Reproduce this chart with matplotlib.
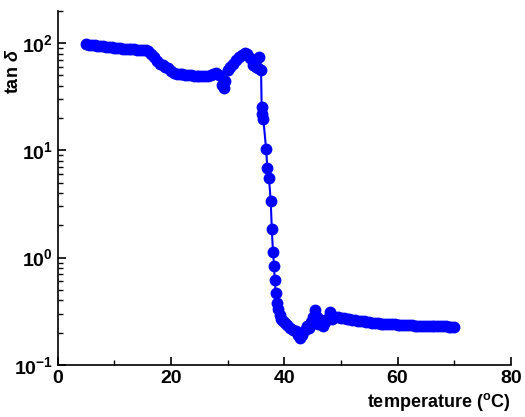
import numpy as np
import matplotlib
matplotlib.use("Agg")
import matplotlib.pyplot as plt
from matplotlib.ticker import FixedLocator, LogLocator, NullFormatter

plt.rcParams['font.family'] = 'Liberation Sans'
plt.rcParams['font.weight'] = 'bold'
plt.rcParams['mathtext.fontset'] = 'custom'
plt.rcParams['mathtext.rm'] = 'Liberation Sans:bold'
plt.rcParams['mathtext.bf'] = 'Liberation Sans:bold'
plt.rcParams['mathtext.it'] = 'Liberation Sans:italic:bold'

# temperature (C) and tan delta
temp = [5.0, 5.5, 6.0, 6.5, 7.0, 7.5, 8.0, 8.5, 9.0, 9.5,
        10.0, 10.5, 11.0, 11.5, 12.0, 12.5, 13.0, 13.5, 14.0, 14.5,
        15.0, 15.5, 16.0, 16.5, 17.0, 17.5, 18.0, 18.5, 19.0, 19.5,
        20.0, 20.5, 21.0, 21.5, 22.0, 22.5, 23.0, 23.5, 24.0, 24.5,
        25.0, 25.5, 26.0, 26.5, 27.0, 27.5, 28.0, 28.5, 29.0, 29.3,
        29.6, 30.0, 30.5, 31.0, 31.5, 32.0, 32.5, 33.0, 33.5, 34.0,
        34.5, 35.0, 35.3, 35.6, 35.9,
        36.0, 36.1, 36.3, 36.8, 37.0, 37.3, 37.6, 37.8, 38.0, 38.2,
        38.3, 38.5, 38.7, 38.9, 39.2, 39.5, 39.8, 40.1, 40.5, 41.0,
        41.5, 42.0, 42.5, 42.8, 43.2, 43.6, 44.0, 44.3, 44.7, 45.0,
        45.4, 45.7, 46.0, 46.4, 46.8, 47.2, 47.6, 48.1, 48.4, 49.0,
        49.5, 50.0, 50.5, 51.0, 51.5, 52.0, 52.5, 53.0, 53.5, 54.0,
        54.5, 55.0, 55.5, 56.0, 56.5, 57.0, 57.5, 58.0, 58.5, 59.0,
        59.5, 60.0, 60.5, 61.0, 61.5, 62.0, 62.5, 63.0, 63.5, 64.0,
        64.5, 65.0, 65.5, 66.0, 66.5, 67.0, 67.5, 68.0, 68.5, 69.0,
        69.5, 70.0]
tan_d = [98, 97, 96, 96, 95, 94, 94, 93, 92, 92,
         91, 90, 90, 89, 89, 88, 88, 88, 87, 87,
         87, 86, 84, 80, 74, 68, 64, 62, 60, 58,
         55, 53, 52, 51, 51, 50.5, 50, 50, 49.5, 49,
         49, 49, 49, 49.5, 50, 51, 53, 50, 41, 38,
         44, 56, 60, 64, 69, 74, 78, 81, 80, 72,
         63, 60, 58, 75, 56,
         25.6, 21.7, 19.5, 10.2, 6.8, 5.5, 3.4, 1.83, 1.14, 0.84,
         0.62, 0.47, 0.38, 0.33, 0.29, 0.27, 0.255, 0.245, 0.235, 0.222,
         0.21, 0.205, 0.19, 0.179, 0.19, 0.21, 0.23, 0.22, 0.25, 0.28,
         0.325, 0.28, 0.24, 0.26, 0.23, 0.25, 0.27, 0.31, 0.27, 0.282,
         0.279, 0.276, 0.273, 0.27, 0.267, 0.264, 0.261, 0.258, 0.256, 0.254,
         0.252, 0.25, 0.248, 0.246, 0.245, 0.243, 0.242, 0.241, 0.24, 0.239,
         0.238, 0.237, 0.236, 0.235, 0.234, 0.234, 0.233, 0.232, 0.232, 0.231,
         0.231, 0.23, 0.23, 0.229, 0.229, 0.229, 0.228, 0.228, 0.228, 0.227,
         0.227, 0.227]

fig = plt.figure(figsize=(5.25, 4.17), dpi=100)
ax = fig.add_axes([0.110, 0.125, 0.863, 0.849])

ax.plot(temp, tan_d, color='#0000ff', lw=1.5, marker='o', ms=7.5,
        mec='#0000ff', mfc='#0000ff')

ax.set_yscale('log')
ax.set_xlim(0, 80)
ax.set_ylim(0.1, 200)

ax.spines['top'].set_visible(False)
ax.spines['right'].set_visible(False)
ax.spines['left'].set_linewidth(1.2)
ax.spines['bottom'].set_linewidth(1.2)

ax.xaxis.set_major_locator(FixedLocator([0, 20, 40, 60, 80]))
ax.xaxis.set_minor_locator(FixedLocator([10, 30, 50, 70]))
ax.yaxis.set_major_locator(FixedLocator([0.1, 1, 10, 100]))
ax.yaxis.set_minor_locator(LogLocator(base=10, subs=np.arange(2, 10)))
ax.yaxis.set_minor_formatter(NullFormatter())
ax.set_yticklabels([r'$\mathbf{10^{-1}}$', r'$\mathbf{10^{0}}$',
                    r'$\mathbf{10^{1}}$', r'$\mathbf{10^{2}}$'])

ax.tick_params(which='both', direction='in', top=False, right=False)
ax.tick_params(which='major', length=6, width=1.2, labelsize=14)
ax.tick_params(which='minor', length=3.5, width=1.0)
for lab in ax.get_xticklabels():
    lab.set_fontweight('bold')

ax.set_xlabel(r'temperature ($^{\mathrm{o}}$C)', fontsize=13,
              fontweight='bold', loc='right', labelpad=3)
ax.set_ylabel(r'tan $\mathit{\delta}$', fontsize=13, fontweight='bold')
ax.yaxis.set_label_coords(-0.079, 0.83)

fig.savefig('out.png', dpi=100)
